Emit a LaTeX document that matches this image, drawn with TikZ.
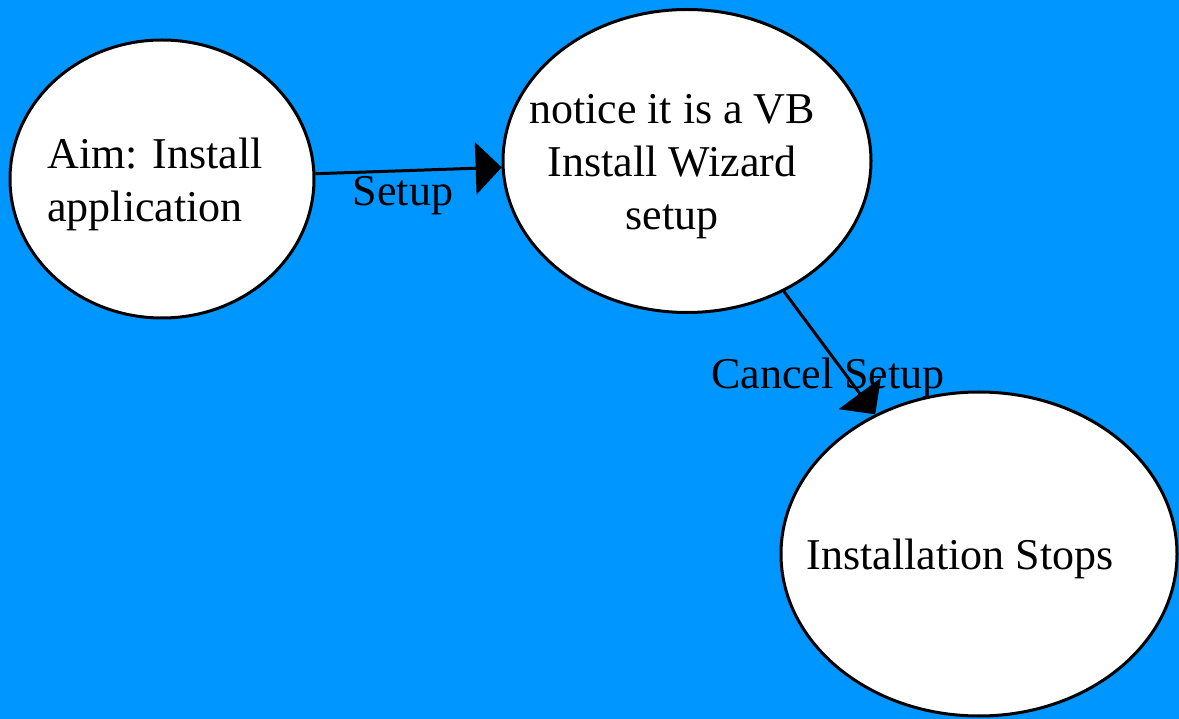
\documentclass[tikz,border=0pt]{standalone}
\usepackage{fontspec}
\setmainfont{Liberation Serif}
\usetikzlibrary{shapes.geometric,arrows.meta}
\definecolor{bgblue}{RGB}{0,150,255}
\begin{document}
\begin{tikzpicture}[x=1pt,y=-1pt,
  state/.style={ellipse,draw=black,line width=3pt,fill=white,inner sep=0pt},
  txt/.style={font=\fontsize{44}{53}\selectfont,inner sep=0pt},
  conn/.style={line width=3pt,-{Triangle[length=26pt,width=52pt]}}]
\fill[bgblue] (0,0) rectangle (1179,719);
\useasboundingbox (0,0) rectangle (1179,719);
\node[state,minimum width=304pt,minimum height=278pt] (a) at (162,179) {};
\node[state,minimum width=368pt,minimum height=303pt] (b) at (687,161) {};
\node[state,minimum width=396pt,minimum height=324pt] (c) at (979,554) {};
\node[txt,align=left] (ta) at (155,184) {Aim: Install\\application};
\node[txt,align=center] (tb) at (672,167) {notice it is a VB\\Install Wizard\\setup};
\node[txt] (tc) at (960,559) {Installation Stops};
\node[txt] (la) at (403,196) {Setup};
\node[txt] (lb) at (828,378) {Cancel Setup};
\draw[conn] (a) -- (b);
\draw[conn] (b) -- (c);
\end{tikzpicture}
\end{document}
